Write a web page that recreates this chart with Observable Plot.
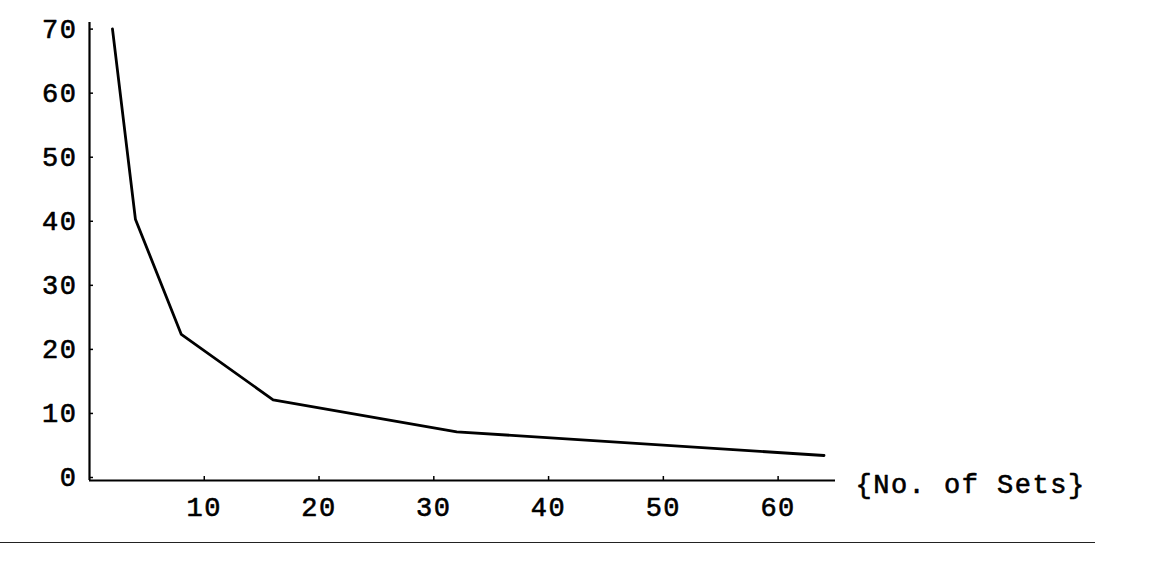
<!DOCTYPE html>
<html>
<head>
<meta charset="utf-8">
<script src="https://cdn.jsdelivr.net/npm/d3@7"></script>
<script src="https://cdn.jsdelivr.net/npm/@observablehq/plot@0.6"></script>
<style>
  html, body { margin: 0; padding: 0; background: #fff; }
  #wrap { position: relative; width: 1174px; height: 569px; overflow: hidden; }
  #edge { position: absolute; left: 0; top: 542px; width: 1095px; border-top: 1.5px solid #222; }
</style>
</head>
<body>
<div id="wrap"><div id="edge"></div></div>
<script>
const sets = [2, 4, 8, 16, 32, 64];
const values = [70.5, 40.8, 22.8, 12.6, 7.6, 3.9];
const xTicks = [10, 20, 30, 40, 50, 60];
const yTicks = [0, 10, 20, 30, 40, 50, 60, 70];
const xLabel = "{No. of Sets}";

const data = sets.map((s, i) => ({sets: s, value: values[i]}));
const font = "'Liberation Mono', 'DejaVu Sans Mono', monospace";

const chart = Plot.plot({
  width: 1174,
  height: 569,
  marginLeft: 89,
  marginRight: 339,
  marginTop: 22,
  marginBottom: 89,
  style: {fontFamily: font, fontSize: "27px", fontWeight: "normal", letterSpacing: "1.5px", color: "#000", background: "transparent", stroke: "none"},
  x: {domain: [0, 65]},
  y: {domain: [0, 71.5]},
  marks: [
    Plot.ruleX([0], {stroke: "#000", strokeWidth: 2.2}),
    Plot.ruleY([0], {stroke: "#000", strokeWidth: 2.2}),
    Plot.axisY({ticks: yTicks, tickSize: -4, tickPadding: 16, dy: -3, label: null, tickFormat: d => String(d), fill: "#000", stroke: "#000", strokeWidth: 1.5, textStroke: "#000", textStrokeWidth: 0.6}),
    Plot.axisX({ticks: xTicks, tickSize: -4, tickPadding: 20, label: null, tickFormat: d => String(d), fill: "#000", stroke: "#000", strokeWidth: 1.5, textStroke: "#000", textStrokeWidth: 0.6}),
    Plot.line(data, {x: "sets", y: "value", stroke: "#000", strokeWidth: 2.8}),
    Plot.text([xLabel], {x: () => 65, y: () => 0, text: d => d, textAnchor: "start", dx: 20, dy: 4, fill: "#000", stroke: "#000", strokeWidth: 0.6})
  ]
});
document.getElementById("wrap").prepend(chart);
</script>
</body>
</html>
